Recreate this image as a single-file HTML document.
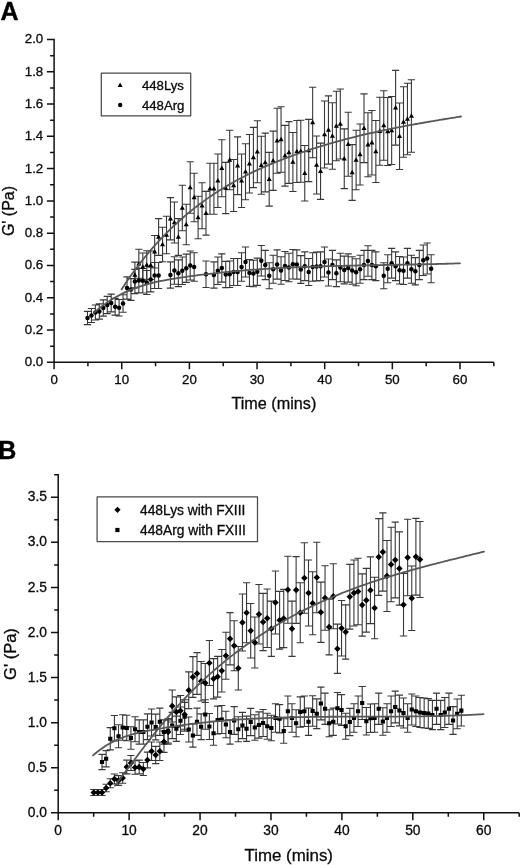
<!DOCTYPE html>
<html><head><meta charset="utf-8"><title>G' vs Time</title>
<style>html,body{margin:0;padding:0;background:#fff}svg{display:block;filter:grayscale(1)}</style></head>
<body>
<svg width="520" height="865" viewBox="0 0 520 865" font-family="'Liberation Sans', Arial, Helvetica, sans-serif" stroke-linejoin="round">
<rect width="520" height="865" fill="#fff"/>
<text x="0.5" y="19.5" font-size="25" font-weight="bold" fill="#000" stroke="#000" stroke-width="0.35">A</text>
<path d="M134.90,262.17V287.83M131.30,262.17h7.2M131.30,287.83h7.2M138.85,249.26V278.24M135.25,249.26h7.2M135.25,278.24h7.2M142.80,252.99V281.01M139.20,252.99h7.2M139.20,281.01h7.2M146.75,250.70V279.30M143.15,250.70h7.2M143.15,279.30h7.2M150.70,250.98V279.52M147.10,250.98h7.2M147.10,279.52h7.2M154.65,235.50V268.00M151.05,235.50h7.2M151.05,268.00h7.2M158.60,218.58V255.42M155.00,218.58h7.2M155.00,255.42h7.2M162.55,227.18V261.82M158.95,227.18h7.2M158.95,261.82h7.2M166.50,216.29V253.71M162.90,216.29h7.2M162.90,253.71h7.2M170.45,197.65V239.85M166.85,197.65h7.2M166.85,239.85h7.2M174.40,201.95V243.05M170.80,201.95h7.2M170.80,243.05h7.2M178.35,218.58V255.42M174.75,218.58h7.2M174.75,255.42h7.2M182.30,185.32V230.68M178.70,185.32h7.2M178.70,230.68h7.2M186.25,204.24V244.76M182.65,204.24h7.2M182.65,244.76h7.2M190.20,161.80V213.20M186.60,161.80h7.2M186.60,213.20h7.2M194.15,173.27V221.73M190.55,173.27h7.2M190.55,221.73h7.2M198.10,196.21V238.79M194.50,196.21h7.2M194.50,238.79h7.2M202.05,182.74V228.76M198.45,182.74h7.2M198.45,228.76h7.2M206.00,191.34V235.16M202.40,191.34h7.2M202.40,235.16h7.2M209.95,163.24V214.26M206.35,163.24h7.2M206.35,214.26h7.2M213.90,163.24V214.26M210.30,163.24h7.2M210.30,214.26h7.2M217.85,154.06V207.44M214.25,154.06h7.2M214.25,207.44h7.2M221.80,139.72V196.78M218.20,139.72h7.2M218.20,196.78h7.2M225.75,162.38V213.62M222.15,162.38h7.2M222.15,213.62h7.2M229.70,130.26V189.74M226.10,130.26h7.2M226.10,189.74h7.2M233.65,159.51V211.49M230.05,159.51h7.2M230.05,211.49h7.2M237.60,136.86V194.64M234.00,136.86h7.2M234.00,194.64h7.2M241.55,154.06V207.44M237.95,154.06h7.2M237.95,207.44h7.2M245.50,143.74V199.76M241.90,143.74h7.2M241.90,199.76h7.2M249.45,134.56V192.94M245.85,134.56h7.2M245.85,192.94h7.2M253.40,127.39V187.61M249.80,127.39h7.2M249.80,187.61h7.2M257.35,120.80V182.70M253.75,120.80h7.2M253.75,182.70h7.2M261.30,136.28V194.22M257.70,136.28h7.2M257.70,194.22h7.2M265.25,133.13V191.87M261.65,133.13h7.2M261.65,191.87h7.2M269.20,152.34V206.16M265.60,152.34h7.2M265.60,206.16h7.2M273.15,131.12V190.38M269.55,131.12h7.2M269.55,190.38h7.2M277.10,108.18V173.32M273.50,108.18h7.2M273.50,173.32h7.2M281.05,106.75V172.25M277.45,106.75h7.2M277.45,172.25h7.2M285.00,125.39V186.11M281.40,125.39h7.2M281.40,186.11h7.2M288.95,121.66V183.34M285.35,121.66h7.2M285.35,183.34h7.2M292.90,132.56V191.44M289.30,132.56h7.2M289.30,191.44h7.2M296.85,120.51V182.49M293.25,120.51h7.2M293.25,182.49h7.2M300.80,120.23V182.27M297.20,120.23h7.2M297.20,182.27h7.2M304.75,145.46V201.04M301.15,145.46h7.2M301.15,201.04h7.2M308.70,119.37V181.63M305.10,119.37h7.2M305.10,181.63h7.2M312.65,87.25V157.75M309.05,87.25h7.2M309.05,157.75h7.2M316.60,136.00V194.00M313.00,136.00h7.2M313.00,194.00h7.2M320.55,143.17V199.33M316.95,143.17h7.2M316.95,199.33h7.2M324.50,101.01V167.99M320.90,101.01h7.2M320.90,167.99h7.2M328.45,95.85V164.15M324.85,95.85h7.2M324.85,164.15h7.2M332.40,102.73V169.27M328.80,102.73h7.2M328.80,169.27h7.2M336.35,91.26V160.74M332.75,91.26h7.2M332.75,160.74h7.2M340.30,88.97V159.03M336.70,88.97h7.2M336.70,159.03h7.2M344.25,128.83V188.67M340.65,128.83h7.2M340.65,188.67h7.2M348.20,112.20V176.30M344.60,112.20h7.2M344.60,176.30h7.2M352.15,144.60V200.40M348.55,144.60h7.2M348.55,200.40h7.2M356.10,130.26V189.74M352.50,130.26h7.2M352.50,189.74h7.2M360.05,123.95V185.05M356.45,123.95h7.2M356.45,185.05h7.2M364.00,93.84V162.66M360.40,93.84h7.2M360.40,162.66h7.2M367.95,112.77V176.73M364.35,112.77h7.2M364.35,176.73h7.2M371.90,110.48V175.02M368.30,110.48h7.2M368.30,175.02h7.2M375.85,120.51V182.49M372.25,120.51h7.2M372.25,182.49h7.2M379.80,97.29V165.21M376.20,97.29h7.2M376.20,165.21h7.2M383.75,90.69V160.31M380.15,90.69h7.2M380.15,160.31h7.2M387.70,97.57V165.43M384.10,97.57h7.2M384.10,165.43h7.2M391.65,96.43V164.57M388.05,96.43h7.2M388.05,164.57h7.2M395.60,70.33V145.17M392.00,70.33h7.2M392.00,145.17h7.2M399.55,103.02V169.48M395.95,103.02h7.2M395.95,169.48h7.2M403.50,86.68V157.32M399.90,86.68h7.2M399.90,157.32h7.2M407.45,83.23V154.77M403.85,83.23h7.2M403.85,154.77h7.2M411.40,79.79V152.21M407.80,79.79h7.2M407.80,152.21h7.2" fill="none" stroke="#383838" stroke-width="1.1"/>
<path d="M87.50,311.36V324.64M83.90,311.36h7.2M83.90,324.64h7.2M91.45,308.48V322.52M87.85,308.48h7.2M87.85,322.52h7.2M95.40,305.03V319.97M91.80,305.03h7.2M91.80,319.97h7.2M99.35,303.88V319.12M95.75,303.88h7.2M95.75,319.12h7.2M103.30,299.86V316.14M99.70,299.86h7.2M99.70,316.14h7.2M107.25,296.40V313.60M103.65,296.40h7.2M103.65,313.60h7.2M111.20,294.11V311.89M107.60,294.11h7.2M107.60,311.89h7.2M115.15,298.42V315.08M111.55,298.42h7.2M111.55,315.08h7.2M119.10,299.57V315.93M115.50,299.57h7.2M115.50,315.93h7.2M123.05,294.68V312.32M119.45,294.68h7.2M119.45,312.32h7.2M127.00,276.86V299.14M123.40,276.86h7.2M123.40,299.14h7.2M130.95,278.58V300.42M127.35,278.58h7.2M127.35,300.42h7.2M134.90,269.38V293.62M131.30,269.38h7.2M131.30,293.62h7.2M138.85,268.23V292.77M135.25,268.23h7.2M135.25,292.77h7.2M142.80,268.52V292.98M139.20,268.52h7.2M139.20,292.98h7.2M146.75,270.53V294.47M143.15,270.53h7.2M143.15,294.47h7.2M150.70,267.08V291.92M147.10,267.08h7.2M147.10,291.92h7.2M154.65,262.48V288.52M151.05,262.48h7.2M151.05,288.52h7.2M158.60,262.48V288.52M155.00,262.48h7.2M155.00,288.52h7.2M170.45,261.90V288.10M166.85,261.90h7.2M166.85,288.10h7.2M174.40,256.73V284.27M170.80,256.73h7.2M170.80,284.27h7.2M178.35,259.89V286.61M174.75,259.89h7.2M174.75,286.61h7.2M182.30,257.02V284.48M178.70,257.02h7.2M178.70,284.48h7.2M186.25,254.14V282.36M182.65,254.14h7.2M182.65,282.36h7.2M190.20,250.98V280.02M186.60,250.98h7.2M186.60,280.02h7.2M194.15,252.70V281.30M190.55,252.70h7.2M190.55,281.30h7.2M206.00,261.04V287.46M202.40,261.04h7.2M202.40,287.46h7.2M213.90,261.90V288.10M210.30,261.90h7.2M210.30,288.10h7.2M217.85,257.02V284.48M214.25,257.02h7.2M214.25,284.48h7.2M221.80,253.85V282.14M218.20,253.85h7.2M218.20,282.14h7.2M225.75,261.33V287.67M222.15,261.33h7.2M222.15,287.67h7.2M229.70,261.04V287.46M226.10,261.04h7.2M226.10,287.46h7.2M233.65,258.45V285.55M230.05,258.45h7.2M230.05,285.55h7.2M237.60,258.45V285.55M234.00,258.45h7.2M234.00,285.55h7.2M241.55,252.70V281.30M237.95,252.70h7.2M237.95,281.30h7.2M245.50,246.95V277.05M241.90,246.95h7.2M241.90,277.05h7.2M249.45,259.61V286.39M245.85,259.61h7.2M245.85,286.39h7.2M253.40,260.18V286.82M249.80,260.18h7.2M249.80,286.82h7.2M257.35,258.17V285.33M253.75,258.17h7.2M253.75,285.33h7.2M261.30,245.52V275.98M257.70,245.52h7.2M257.70,275.98h7.2M265.25,250.41V279.60M261.65,250.41h7.2M261.65,279.60h7.2M269.20,262.77V288.73M265.60,262.77h7.2M265.60,288.73h7.2M273.15,255.29V283.21M269.55,255.29h7.2M269.55,283.21h7.2M277.10,249.83V279.17M273.50,249.83h7.2M273.50,279.17h7.2M281.05,256.73V284.27M277.45,256.73h7.2M277.45,284.27h7.2M285.00,251.56V280.44M281.40,251.56h7.2M281.40,280.44h7.2M288.95,253.28V281.72M285.35,253.28h7.2M285.35,281.72h7.2M292.90,249.54V278.96M289.30,249.54h7.2M289.30,278.96h7.2M296.85,249.83V279.17M293.25,249.83h7.2M293.25,279.17h7.2M300.80,255.58V283.42M297.20,255.58h7.2M297.20,283.42h7.2M304.75,251.84V280.66M301.15,251.84h7.2M301.15,280.66h7.2M308.70,258.45V285.55M305.10,258.45h7.2M305.10,285.55h7.2M312.65,252.70V281.30M309.05,252.70h7.2M309.05,281.30h7.2M316.60,252.13V280.87M313.00,252.13h7.2M313.00,280.87h7.2M320.55,251.84V280.66M316.95,251.84h7.2M316.95,280.66h7.2M324.50,246.95V277.05M320.90,246.95h7.2M320.90,277.05h7.2M328.45,259.03V285.97M324.85,259.03h7.2M324.85,285.97h7.2M332.40,250.41V279.60M328.80,250.41h7.2M328.80,279.60h7.2M336.35,259.89V286.61M332.75,259.89h7.2M332.75,286.61h7.2M340.30,253.28V281.72M336.70,253.28h7.2M336.70,281.72h7.2M344.25,256.15V283.85M340.65,256.15h7.2M340.65,283.85h7.2M348.20,253.85V282.14M344.60,253.85h7.2M344.60,282.14h7.2M352.15,256.73V284.27M348.55,256.73h7.2M348.55,284.27h7.2M356.10,258.74V285.76M352.50,258.74h7.2M352.50,285.76h7.2M360.05,255.29V283.21M356.45,255.29h7.2M356.45,283.21h7.2M364.00,250.41V279.60M360.40,250.41h7.2M360.40,279.60h7.2M367.95,245.81V276.19M364.35,245.81h7.2M364.35,276.19h7.2M371.90,250.41V279.60M368.30,250.41h7.2M368.30,279.60h7.2M375.85,251.84V280.66M372.25,251.84h7.2M372.25,280.66h7.2M383.75,262.77V288.73M380.15,262.77h7.2M380.15,288.73h7.2M387.70,254.72V282.78M384.10,254.72h7.2M384.10,282.78h7.2M391.65,248.39V278.11M388.05,248.39h7.2M388.05,278.11h7.2M395.60,251.84V280.66M392.00,251.84h7.2M392.00,280.66h7.2M399.55,256.44V284.06M395.95,256.44h7.2M395.95,284.06h7.2M403.50,257.02V284.48M399.90,257.02h7.2M399.90,284.48h7.2M407.45,248.39V278.11M403.85,248.39h7.2M403.85,278.11h7.2M411.40,255.29V283.21M407.80,255.29h7.2M407.80,283.21h7.2M415.35,257.59V284.91M411.75,257.59h7.2M411.75,284.91h7.2M419.30,250.41V279.60M415.70,250.41h7.2M415.70,279.60h7.2M423.25,244.94V275.56M419.65,244.94h7.2M419.65,275.56h7.2M427.20,242.93V274.07M423.60,242.93h7.2M423.60,274.07h7.2M431.15,254.72V282.78M427.55,254.72h7.2M427.55,282.78h7.2" fill="none" stroke="#383838" stroke-width="1.1"/>
<path d="M134.90,272.30l2.55,4.5h-5.1zM138.85,261.05l2.55,4.5h-5.1zM142.80,264.30l2.55,4.5h-5.1zM146.75,262.30l2.55,4.5h-5.1zM150.70,262.55l2.55,4.5h-5.1zM154.65,249.05l2.55,4.5h-5.1zM158.60,234.30l2.55,4.5h-5.1zM162.55,241.80l2.55,4.5h-5.1zM166.50,232.30l2.55,4.5h-5.1zM170.45,216.05l2.55,4.5h-5.1zM174.40,219.80l2.55,4.5h-5.1zM178.35,234.30l2.55,4.5h-5.1zM182.30,205.30l2.55,4.5h-5.1zM186.25,221.80l2.55,4.5h-5.1zM190.20,184.80l2.55,4.5h-5.1zM194.15,194.80l2.55,4.5h-5.1zM198.10,214.80l2.55,4.5h-5.1zM202.05,203.05l2.55,4.5h-5.1zM206.00,210.55l2.55,4.5h-5.1zM209.95,186.05l2.55,4.5h-5.1zM213.90,186.05l2.55,4.5h-5.1zM217.85,178.05l2.55,4.5h-5.1zM221.80,165.55l2.55,4.5h-5.1zM225.75,185.30l2.55,4.5h-5.1zM229.70,157.30l2.55,4.5h-5.1zM233.65,182.80l2.55,4.5h-5.1zM237.60,163.05l2.55,4.5h-5.1zM241.55,178.05l2.55,4.5h-5.1zM245.50,169.05l2.55,4.5h-5.1zM249.45,161.05l2.55,4.5h-5.1zM253.40,154.80l2.55,4.5h-5.1zM257.35,149.05l2.55,4.5h-5.1zM261.30,162.55l2.55,4.5h-5.1zM265.25,159.80l2.55,4.5h-5.1zM269.20,176.55l2.55,4.5h-5.1zM273.15,158.05l2.55,4.5h-5.1zM277.10,138.05l2.55,4.5h-5.1zM281.05,136.80l2.55,4.5h-5.1zM285.00,153.05l2.55,4.5h-5.1zM288.95,149.80l2.55,4.5h-5.1zM292.90,159.30l2.55,4.5h-5.1zM296.85,148.80l2.55,4.5h-5.1zM300.80,148.55l2.55,4.5h-5.1zM304.75,170.55l2.55,4.5h-5.1zM308.70,147.80l2.55,4.5h-5.1zM312.65,119.80l2.55,4.5h-5.1zM316.60,162.30l2.55,4.5h-5.1zM320.55,168.55l2.55,4.5h-5.1zM324.50,131.80l2.55,4.5h-5.1zM328.45,127.30l2.55,4.5h-5.1zM332.40,133.30l2.55,4.5h-5.1zM336.35,123.30l2.55,4.5h-5.1zM340.30,121.30l2.55,4.5h-5.1zM344.25,156.05l2.55,4.5h-5.1zM348.20,141.55l2.55,4.5h-5.1zM352.15,169.80l2.55,4.5h-5.1zM356.10,157.30l2.55,4.5h-5.1zM360.05,151.80l2.55,4.5h-5.1zM364.00,125.55l2.55,4.5h-5.1zM367.95,142.05l2.55,4.5h-5.1zM371.90,140.05l2.55,4.5h-5.1zM375.85,148.80l2.55,4.5h-5.1zM379.80,128.55l2.55,4.5h-5.1zM383.75,122.80l2.55,4.5h-5.1zM387.70,128.80l2.55,4.5h-5.1zM391.65,127.80l2.55,4.5h-5.1zM395.60,105.05l2.55,4.5h-5.1zM399.55,133.55l2.55,4.5h-5.1zM403.50,119.30l2.55,4.5h-5.1zM407.45,116.30l2.55,4.5h-5.1zM411.40,113.30l2.55,4.5h-5.1z" fill="#000"/>
<circle cx="87.50" cy="318.00" r="2.25" fill="#000"/>
<circle cx="91.45" cy="315.50" r="2.25" fill="#000"/>
<circle cx="95.40" cy="312.50" r="2.25" fill="#000"/>
<circle cx="99.35" cy="311.50" r="2.25" fill="#000"/>
<circle cx="103.30" cy="308.00" r="2.25" fill="#000"/>
<circle cx="107.25" cy="305.00" r="2.25" fill="#000"/>
<circle cx="111.20" cy="303.00" r="2.25" fill="#000"/>
<circle cx="115.15" cy="306.75" r="2.25" fill="#000"/>
<circle cx="119.10" cy="307.75" r="2.25" fill="#000"/>
<circle cx="123.05" cy="303.50" r="2.25" fill="#000"/>
<circle cx="127.00" cy="288.00" r="2.25" fill="#000"/>
<circle cx="130.95" cy="289.50" r="2.25" fill="#000"/>
<circle cx="134.90" cy="281.50" r="2.25" fill="#000"/>
<circle cx="138.85" cy="280.50" r="2.25" fill="#000"/>
<circle cx="142.80" cy="280.75" r="2.25" fill="#000"/>
<circle cx="146.75" cy="282.50" r="2.25" fill="#000"/>
<circle cx="150.70" cy="279.50" r="2.25" fill="#000"/>
<circle cx="154.65" cy="275.50" r="2.25" fill="#000"/>
<circle cx="158.60" cy="275.50" r="2.25" fill="#000"/>
<circle cx="170.45" cy="275.00" r="2.25" fill="#000"/>
<circle cx="174.40" cy="270.50" r="2.25" fill="#000"/>
<circle cx="178.35" cy="273.25" r="2.25" fill="#000"/>
<circle cx="182.30" cy="270.75" r="2.25" fill="#000"/>
<circle cx="186.25" cy="268.25" r="2.25" fill="#000"/>
<circle cx="190.20" cy="265.50" r="2.25" fill="#000"/>
<circle cx="194.15" cy="267.00" r="2.25" fill="#000"/>
<circle cx="206.00" cy="274.25" r="2.25" fill="#000"/>
<circle cx="213.90" cy="275.00" r="2.25" fill="#000"/>
<circle cx="217.85" cy="270.75" r="2.25" fill="#000"/>
<circle cx="221.80" cy="268.00" r="2.25" fill="#000"/>
<circle cx="225.75" cy="274.50" r="2.25" fill="#000"/>
<circle cx="229.70" cy="274.25" r="2.25" fill="#000"/>
<circle cx="233.65" cy="272.00" r="2.25" fill="#000"/>
<circle cx="237.60" cy="272.00" r="2.25" fill="#000"/>
<circle cx="241.55" cy="267.00" r="2.25" fill="#000"/>
<circle cx="245.50" cy="262.00" r="2.25" fill="#000"/>
<circle cx="249.45" cy="273.00" r="2.25" fill="#000"/>
<circle cx="253.40" cy="273.50" r="2.25" fill="#000"/>
<circle cx="257.35" cy="271.75" r="2.25" fill="#000"/>
<circle cx="261.30" cy="260.75" r="2.25" fill="#000"/>
<circle cx="265.25" cy="265.00" r="2.25" fill="#000"/>
<circle cx="269.20" cy="275.75" r="2.25" fill="#000"/>
<circle cx="273.15" cy="269.25" r="2.25" fill="#000"/>
<circle cx="277.10" cy="264.50" r="2.25" fill="#000"/>
<circle cx="281.05" cy="270.50" r="2.25" fill="#000"/>
<circle cx="285.00" cy="266.00" r="2.25" fill="#000"/>
<circle cx="288.95" cy="267.50" r="2.25" fill="#000"/>
<circle cx="292.90" cy="264.25" r="2.25" fill="#000"/>
<circle cx="296.85" cy="264.50" r="2.25" fill="#000"/>
<circle cx="300.80" cy="269.50" r="2.25" fill="#000"/>
<circle cx="304.75" cy="266.25" r="2.25" fill="#000"/>
<circle cx="308.70" cy="272.00" r="2.25" fill="#000"/>
<circle cx="312.65" cy="267.00" r="2.25" fill="#000"/>
<circle cx="316.60" cy="266.50" r="2.25" fill="#000"/>
<circle cx="320.55" cy="266.25" r="2.25" fill="#000"/>
<circle cx="324.50" cy="262.00" r="2.25" fill="#000"/>
<circle cx="328.45" cy="272.50" r="2.25" fill="#000"/>
<circle cx="332.40" cy="265.00" r="2.25" fill="#000"/>
<circle cx="336.35" cy="273.25" r="2.25" fill="#000"/>
<circle cx="340.30" cy="267.50" r="2.25" fill="#000"/>
<circle cx="344.25" cy="270.00" r="2.25" fill="#000"/>
<circle cx="348.20" cy="268.00" r="2.25" fill="#000"/>
<circle cx="352.15" cy="270.50" r="2.25" fill="#000"/>
<circle cx="356.10" cy="272.25" r="2.25" fill="#000"/>
<circle cx="360.05" cy="269.25" r="2.25" fill="#000"/>
<circle cx="364.00" cy="265.00" r="2.25" fill="#000"/>
<circle cx="367.95" cy="261.00" r="2.25" fill="#000"/>
<circle cx="371.90" cy="265.00" r="2.25" fill="#000"/>
<circle cx="375.85" cy="266.25" r="2.25" fill="#000"/>
<circle cx="383.75" cy="275.75" r="2.25" fill="#000"/>
<circle cx="387.70" cy="268.75" r="2.25" fill="#000"/>
<circle cx="391.65" cy="263.25" r="2.25" fill="#000"/>
<circle cx="395.60" cy="266.25" r="2.25" fill="#000"/>
<circle cx="399.55" cy="270.25" r="2.25" fill="#000"/>
<circle cx="403.50" cy="270.75" r="2.25" fill="#000"/>
<circle cx="407.45" cy="263.25" r="2.25" fill="#000"/>
<circle cx="411.40" cy="269.25" r="2.25" fill="#000"/>
<circle cx="415.35" cy="271.25" r="2.25" fill="#000"/>
<circle cx="419.30" cy="265.00" r="2.25" fill="#000"/>
<circle cx="423.25" cy="260.25" r="2.25" fill="#000"/>
<circle cx="427.20" cy="258.50" r="2.25" fill="#000"/>
<circle cx="431.15" cy="268.75" r="2.25" fill="#000"/>
<path d="M121.50,289.39 L123.64,286.15 L125.77,282.97 L127.91,279.85 L130.04,276.80 L132.18,273.81 L134.31,270.87 L136.45,267.99 L138.58,265.17 L140.72,262.40 L142.85,259.69 L144.99,257.03 L147.12,254.42 L149.26,251.87 L151.39,249.36 L153.53,246.91 L155.66,244.50 L157.80,242.15 L159.93,239.83 L162.07,237.57 L164.20,235.35 L166.34,233.17 L168.47,231.04 L170.61,228.94 L172.75,226.89 L174.88,224.88 L177.02,222.91 L179.15,220.97 L181.29,219.08 L183.42,217.21 L185.56,215.39 L187.69,213.59 L189.83,211.83 L191.96,210.11 L194.10,208.41 L196.23,206.74 L198.37,205.11 L200.50,203.50 L202.64,201.93 L204.77,200.38 L206.91,198.86 L209.04,197.37 L211.18,195.91 L213.31,194.47 L215.45,193.06 L217.58,191.68 L219.72,190.32 L221.86,188.99 L223.99,187.68 L226.13,186.40 L228.26,185.14 L230.40,183.90 L232.53,182.68 L234.67,181.49 L236.80,180.32 L238.94,179.17 L241.07,178.04 L243.21,176.93 L245.34,175.84 L247.48,174.76 L249.61,173.71 L251.75,172.68 L253.88,171.66 L256.02,170.66 L258.15,169.67 L260.29,168.70 L262.42,167.75 L264.56,166.81 L266.69,165.89 L268.83,164.98 L270.97,164.09 L273.10,163.20 L275.24,162.33 L277.37,161.47 L279.51,160.63 L281.64,159.79 L283.78,158.97 L285.91,158.15 L288.05,157.35 L290.18,156.56 L292.32,155.77 L294.45,155.00 L296.59,154.24 L298.72,153.49 L300.86,152.74 L302.99,152.01 L305.13,151.29 L307.26,150.57 L309.40,149.87 L311.53,149.18 L313.67,148.49 L315.81,147.81 L317.94,147.15 L320.08,146.49 L322.21,145.84 L324.35,145.19 L326.48,144.56 L328.62,143.94 L330.75,143.32 L332.89,142.71 L335.02,142.11 L337.16,141.52 L339.29,140.93 L341.43,140.35 L343.56,139.78 L345.70,139.22 L347.83,138.67 L349.97,138.12 L352.10,137.58 L354.24,137.04 L356.37,136.51 L358.51,135.99 L360.64,135.48 L362.78,134.97 L364.92,134.47 L367.05,133.97 L369.19,133.48 L371.32,133.00 L373.46,132.52 L375.59,132.05 L377.73,131.58 L379.86,131.12 L382.00,130.67 L384.13,130.22 L386.27,129.77 L388.40,129.33 L390.54,128.90 L392.67,128.47 L394.81,128.04 L396.94,127.62 L399.08,127.20 L401.21,126.79 L403.35,126.38 L405.48,125.98 L407.62,125.58 L409.75,125.18 L411.89,124.79 L414.03,124.40 L416.16,124.01 L418.30,123.63 L420.43,123.25 L422.57,122.87 L424.70,122.50 L426.84,122.13 L428.97,121.76 L431.11,121.40 L433.24,121.03 L435.38,120.67 L437.51,120.31 L439.65,119.96 L441.78,119.61 L443.92,119.25 L446.05,118.90 L448.19,118.55 L450.32,118.21 L452.46,117.86 L454.59,117.52 L456.73,117.18 L458.86,116.83 L461.00,116.49" fill="none" stroke="#575757" stroke-width="1.8" stroke-linecap="round"/>
<path d="M94.40,312.39 L96.70,310.43 L99.00,308.54 L101.30,306.74 L103.60,305.02 L105.90,303.37 L108.20,301.79 L110.50,300.29 L112.79,298.85 L115.09,297.49 L117.39,296.19 L119.69,294.95 L121.99,293.77 L124.29,292.65 L126.59,291.59 L128.89,290.58 L131.19,289.62 L133.49,288.72 L135.79,287.86 L138.09,287.05 L140.39,286.28 L142.69,285.55 L144.99,284.86 L147.29,284.21 L149.58,283.60 L151.88,283.01 L154.18,282.46 L156.48,281.94 L158.78,281.44 L161.08,280.97 L163.38,280.52 L165.68,280.09 L167.98,279.68 L170.28,279.29 L172.58,278.90 L174.88,278.53 L177.18,278.17 L179.48,277.82 L181.78,277.47 L184.08,277.13 L186.37,276.80 L188.67,276.47 L190.97,276.15 L193.27,275.84 L195.57,275.53 L197.87,275.23 L200.17,274.94 L202.47,274.65 L204.77,274.37 L207.07,274.09 L209.37,273.82 L211.67,273.56 L213.97,273.30 L216.27,273.05 L218.57,272.80 L220.87,272.56 L223.16,272.33 L225.46,272.10 L227.76,271.87 L230.06,271.65 L232.36,271.44 L234.66,271.23 L236.96,271.02 L239.26,270.82 L241.56,270.63 L243.86,270.44 L246.16,270.26 L248.46,270.08 L250.76,269.90 L253.06,269.73 L255.36,269.56 L257.66,269.40 L259.95,269.24 L262.25,269.09 L264.55,268.94 L266.85,268.80 L269.15,268.65 L271.45,268.52 L273.75,268.38 L276.05,268.25 L278.35,268.13 L280.65,268.01 L282.95,267.89 L285.25,267.77 L287.55,267.66 L289.85,267.55 L292.15,267.45 L294.45,267.34 L296.74,267.24 L299.04,267.15 L301.34,267.05 L303.64,266.96 L305.94,266.88 L308.24,266.79 L310.54,266.71 L312.84,266.63 L315.14,266.55 L317.44,266.48 L319.74,266.40 L322.04,266.33 L324.34,266.26 L326.64,266.20 L328.94,266.13 L331.24,266.07 L333.53,266.01 L335.83,265.95 L338.13,265.90 L340.43,265.84 L342.73,265.79 L345.03,265.74 L347.33,265.68 L349.63,265.64 L351.93,265.59 L354.23,265.54 L356.53,265.49 L358.83,265.45 L361.13,265.40 L363.43,265.36 L365.73,265.32 L368.03,265.28 L370.32,265.24 L372.62,265.20 L374.92,265.16 L377.22,265.12 L379.52,265.08 L381.82,265.04 L384.12,265.00 L386.42,264.96 L388.72,264.92 L391.02,264.88 L393.32,264.85 L395.62,264.81 L397.92,264.77 L400.22,264.73 L402.52,264.69 L404.82,264.65 L407.11,264.61 L409.41,264.56 L411.71,264.52 L414.01,264.48 L416.31,264.43 L418.61,264.39 L420.91,264.34 L423.21,264.30 L425.51,264.25 L427.81,264.20 L430.11,264.15 L432.41,264.09 L434.71,264.04 L437.01,263.98 L439.31,263.93 L441.61,263.87 L443.90,263.81 L446.20,263.74 L448.50,263.68 L450.80,263.61 L453.10,263.54 L455.40,263.47 L457.70,263.40 L460.00,263.32" fill="none" stroke="#575757" stroke-width="1.8" stroke-linecap="round"/>
<path d="M54.1,38.75V363.05M53.35,362.3H493.82M54.1,362.30h-7.2M54.1,330.02h-7.2M54.1,297.74h-7.2M54.1,265.46h-7.2M54.1,233.18h-7.2M54.1,200.90h-7.2M54.1,168.62h-7.2M54.1,136.34h-7.2M54.1,104.06h-7.2M54.1,71.78h-7.2M54.1,39.50h-7.2M54.1,346.16h-4M54.1,313.88h-4M54.1,281.60h-4M54.1,249.32h-4M54.1,217.04h-4M54.1,184.76h-4M54.1,152.48h-4M54.1,120.20h-4M54.1,87.92h-4M54.1,55.64h-4M54.10,362.3v7.0M121.75,362.3v7.0M189.40,362.3v7.0M257.05,362.3v7.0M324.70,362.3v7.0M392.35,362.3v7.0M460.00,362.3v7.0M87.92,362.3v4M155.57,362.3v4M223.22,362.3v4M290.88,362.3v4M358.53,362.3v4M426.18,362.3v4M493.82,362.3v4" fill="none" stroke="#111" stroke-width="1.5"/>
<text x="43.25" y="366.21" font-size="13.3" text-anchor="end" fill="#0a0a0a" stroke="#0a0a0a" stroke-width="0.3">0.0</text>
<text x="43.25" y="333.93" font-size="13.3" text-anchor="end" fill="#0a0a0a" stroke="#0a0a0a" stroke-width="0.3">0.2</text>
<text x="43.25" y="301.65" font-size="13.3" text-anchor="end" fill="#0a0a0a" stroke="#0a0a0a" stroke-width="0.3">0.4</text>
<text x="43.25" y="269.37" font-size="13.3" text-anchor="end" fill="#0a0a0a" stroke="#0a0a0a" stroke-width="0.3">0.6</text>
<text x="43.25" y="237.09" font-size="13.3" text-anchor="end" fill="#0a0a0a" stroke="#0a0a0a" stroke-width="0.3">0.8</text>
<text x="43.25" y="204.81" font-size="13.3" text-anchor="end" fill="#0a0a0a" stroke="#0a0a0a" stroke-width="0.3">1.0</text>
<text x="43.25" y="172.53" font-size="13.3" text-anchor="end" fill="#0a0a0a" stroke="#0a0a0a" stroke-width="0.3">1.2</text>
<text x="43.25" y="140.25" font-size="13.3" text-anchor="end" fill="#0a0a0a" stroke="#0a0a0a" stroke-width="0.3">1.4</text>
<text x="43.25" y="107.97" font-size="13.3" text-anchor="end" fill="#0a0a0a" stroke="#0a0a0a" stroke-width="0.3">1.6</text>
<text x="43.25" y="75.69" font-size="13.3" text-anchor="end" fill="#0a0a0a" stroke="#0a0a0a" stroke-width="0.3">1.8</text>
<text x="43.25" y="43.41" font-size="13.3" text-anchor="end" fill="#0a0a0a" stroke="#0a0a0a" stroke-width="0.3">2.0</text>
<text x="54.10" y="384.00" font-size="13.3" text-anchor="middle" fill="#0a0a0a" stroke="#0a0a0a" stroke-width="0.3">0</text>
<text x="121.75" y="384.00" font-size="13.3" text-anchor="middle" fill="#0a0a0a" stroke="#0a0a0a" stroke-width="0.3">10</text>
<text x="189.40" y="384.00" font-size="13.3" text-anchor="middle" fill="#0a0a0a" stroke="#0a0a0a" stroke-width="0.3">20</text>
<text x="257.05" y="384.00" font-size="13.3" text-anchor="middle" fill="#0a0a0a" stroke="#0a0a0a" stroke-width="0.3">30</text>
<text x="324.70" y="384.00" font-size="13.3" text-anchor="middle" fill="#0a0a0a" stroke="#0a0a0a" stroke-width="0.3">40</text>
<text x="392.35" y="384.00" font-size="13.3" text-anchor="middle" fill="#0a0a0a" stroke="#0a0a0a" stroke-width="0.3">50</text>
<text x="460.00" y="384.00" font-size="13.3" text-anchor="middle" fill="#0a0a0a" stroke="#0a0a0a" stroke-width="0.3">60</text>
<text x="273.9" y="408.75" font-size="16.2" text-anchor="middle" fill="#0a0a0a" stroke="#0a0a0a" stroke-width="0.3">Time (mins)</text>
<text transform="translate(13.8,211) rotate(-90)" font-size="16" text-anchor="middle" fill="#0a0a0a" stroke="#0a0a0a" stroke-width="0.3">G' (Pa)</text>
<rect x="101.3" y="73.2" width="89.4" height="42.7" fill="#fff" stroke="#4a4a4a" stroke-width="1.25"/>
<path d="M120.1,82.4l2.5,4.5h-5z" fill="#000"/><circle cx="120.2" cy="105" r="2.2" fill="#000"/>
<text x="141.9" y="90.2" font-size="13.2" fill="#0a0a0a" stroke="#0a0a0a" stroke-width="0.3">448Lys</text>
<text x="141.9" y="110" font-size="13.2" fill="#0a0a0a" stroke="#0a0a0a" stroke-width="0.3">448Arg</text>
<text x="-1.8" y="458.8" font-size="25" font-weight="bold" fill="#000" stroke="#000" stroke-width="0.35">B</text>
<path d="M93.75,789.46V795.54M90.15,789.46h7.2M90.15,795.54h7.2M97.88,789.46V795.54M94.28,789.46h7.2M94.28,795.54h7.2M102.01,789.46V795.54M98.41,789.46h7.2M98.41,795.54h7.2M106.14,784.28V791.72M102.54,784.28h7.2M102.54,791.72h7.2M110.27,778.82V787.68M106.67,778.82h7.2M106.67,787.68h7.2M114.40,773.93V784.07M110.80,773.93h7.2M110.80,784.07h7.2M118.53,775.65V785.35M114.93,775.65h7.2M114.93,785.35h7.2M122.66,772.78V783.22M119.06,772.78h7.2M119.06,783.22h7.2M126.79,760.13V773.87M123.19,760.13h7.2M123.19,773.87h7.2M130.92,755.53V770.47M127.32,755.53h7.2M127.32,770.47h7.2M135.05,760.71V774.29M131.45,760.71h7.2M131.45,774.29h7.2M139.18,760.13V773.87M135.58,760.13h7.2M135.58,773.87h7.2M143.31,762.43V775.57M139.71,762.43h7.2M139.71,775.57h7.2M147.44,752.08V767.92M143.84,752.08h7.2M143.84,767.92h7.2M151.57,742.02V760.48M147.97,742.02h7.2M147.97,760.48h7.2M155.70,746.33V763.67M152.10,746.33h7.2M152.10,763.67h7.2M159.83,742.02V760.48M156.23,742.02h7.2M156.23,760.48h7.2M163.96,731.09V752.41M160.36,731.09h7.2M160.36,752.41h7.2M168.09,719.88V744.12M164.49,719.88h7.2M164.49,744.12h7.2M172.22,689.98V722.02M168.62,689.98h7.2M168.62,722.02h7.2M176.35,696.88V727.12M172.75,696.88h7.2M172.75,727.12h7.2M180.48,695.44V726.06M176.88,695.44h7.2M176.88,726.06h7.2M184.61,699.75V729.25M181.01,699.75h7.2M181.01,729.25h7.2M188.74,671.87V708.63M185.14,671.87h7.2M185.14,708.63h7.2M192.87,656.63V697.37M189.27,656.63h7.2M189.27,697.37h7.2M197.00,652.61V694.39M193.40,652.61h7.2M193.40,694.39h7.2M201.13,661.52V700.98M197.53,661.52h7.2M197.53,700.98h7.2M205.26,663.53V702.47M201.66,663.53h7.2M201.66,702.47h7.2M209.39,640.53V685.47M205.79,640.53h7.2M205.79,685.47h7.2M213.52,658.64V698.86M209.92,658.64h7.2M209.92,698.86h7.2M217.65,656.34V697.16M214.05,656.34h7.2M214.05,697.16h7.2M221.78,649.44V692.06M218.18,649.44h7.2M218.18,692.06h7.2M225.91,632.19V679.31M222.31,632.19h7.2M222.31,679.31h7.2M230.04,612.64V664.86M226.44,612.64h7.2M226.44,664.86h7.2M234.17,620.69V670.81M230.57,620.69h7.2M230.57,670.81h7.2M238.30,646.57V689.93M234.70,646.57h7.2M234.70,689.93h7.2M242.43,593.96V651.04M238.83,593.96h7.2M238.83,651.04h7.2M246.56,582.74V642.76M242.96,582.74h7.2M242.96,642.76h7.2M250.69,603.44V658.06M247.09,603.44h7.2M247.09,658.06h7.2M254.82,616.96V668.04M251.22,616.96h7.2M251.22,668.04h7.2M258.95,584.47V644.03M255.35,584.47h7.2M255.35,644.03h7.2M263.08,593.38V650.62M259.48,593.38h7.2M259.48,650.62h7.2M267.21,589.07V647.43M263.61,589.07h7.2M263.61,647.43h7.2M271.34,601.14V656.36M267.74,601.14h7.2M267.74,656.36h7.2M275.47,570.96V634.04M271.87,570.96h7.2M271.87,634.04h7.2M279.60,591.37V649.13M276.00,591.37h7.2M276.00,649.13h7.2M283.73,589.36V647.64M280.13,589.36h7.2M280.13,647.64h7.2M287.86,556.29V623.21M284.26,556.29h7.2M284.26,623.21h7.2M291.99,601.14V656.36M288.39,601.14h7.2M288.39,656.36h7.2M296.12,556.58V623.42M292.52,556.58h7.2M292.52,623.42h7.2M300.25,582.74V642.76M296.65,582.74h7.2M296.65,642.76h7.2M304.38,542.78V613.22M300.78,542.78h7.2M300.78,613.22h7.2M308.51,560.03V625.97M304.91,560.03h7.2M304.91,625.97h7.2M312.64,571.82V634.68M309.04,571.82h7.2M309.04,634.68h7.2M316.77,542.21V612.79M313.17,542.21h7.2M313.17,612.79h7.2M320.90,582.17V642.33M317.30,582.17h7.2M317.30,642.33h7.2M325.03,565.78V630.22M321.43,565.78h7.2M321.43,630.22h7.2M329.16,599.13V654.87M325.56,599.13h7.2M325.56,654.87h7.2M333.29,563.77V628.73M329.69,563.77h7.2M329.69,628.73h7.2M337.42,624.14V673.36M333.82,624.14h7.2M333.82,673.36h7.2M341.55,600.57V655.93M337.95,600.57h7.2M337.95,655.93h7.2M345.68,604.88V659.12M342.08,604.88h7.2M342.08,659.12h7.2M349.81,564.34V629.16M346.21,564.34h7.2M346.21,629.16h7.2M353.94,560.03V625.97M350.34,560.03h7.2M350.34,625.97h7.2M358.07,558.31V624.69M354.47,558.31h7.2M354.47,624.69h7.2M362.20,573.83V636.17M358.60,573.83h7.2M358.60,636.17h7.2M366.33,568.37V632.13M362.73,568.37h7.2M362.73,632.13h7.2M370.46,556.87V623.63M366.86,556.87h7.2M366.86,623.63h7.2M374.59,577.28V638.72M370.99,577.28h7.2M370.99,638.72h7.2M378.72,518.63V595.37M375.12,518.63h7.2M375.12,595.37h7.2M382.85,512.88V591.12M379.25,512.88h7.2M379.25,591.12h7.2M386.98,540.48V611.52M383.38,540.48h7.2M383.38,611.52h7.2M391.11,527.25V601.75M387.51,527.25h7.2M387.51,601.75h7.2M395.24,522.08V597.92M391.64,522.08h7.2M391.64,597.92h7.2M399.37,531.86V605.14M395.77,531.86h7.2M395.77,605.14h7.2M403.50,573.54V635.96M399.90,573.54h7.2M399.90,635.96h7.2M407.63,519.21V595.79M404.03,519.21h7.2M404.03,595.79h7.2M411.76,566.07V630.43M408.16,566.07h7.2M408.16,630.43h7.2M415.89,518.34V595.16M412.29,518.34h7.2M412.29,595.16h7.2M420.02,521.50V597.50M416.42,521.50h7.2M416.42,597.50h7.2" fill="none" stroke="#383838" stroke-width="1.1"/>
<path d="M102.01,754.38V769.62M98.41,754.38h7.2M98.41,769.62h7.2M106.14,750.64V766.86M102.54,750.64h7.2M102.54,766.86h7.2M110.27,727.64V749.86M106.67,727.64h7.2M106.67,749.86h7.2M114.40,715.57V740.93M110.80,715.57h7.2M110.80,740.93h7.2M118.53,724.77V747.73M114.93,724.77h7.2M114.93,747.73h7.2M122.66,714.71V740.29M119.06,714.71h7.2M119.06,740.29h7.2M126.79,715.28V740.72M123.19,715.28h7.2M123.19,740.72h7.2M130.92,726.78V749.22M127.32,726.78h7.2M127.32,749.22h7.2M135.05,716.72V741.78M131.45,716.72h7.2M131.45,741.78h7.2M139.18,719.88V744.12M135.58,719.88h7.2M135.58,744.12h7.2M143.31,719.88V744.12M139.71,719.88h7.2M139.71,744.12h7.2M147.44,713.84V739.66M143.84,713.84h7.2M143.84,739.66h7.2M151.57,708.96V736.04M147.97,708.96h7.2M147.97,736.04h7.2M155.70,714.13V739.87M152.10,714.13h7.2M152.10,739.87h7.2M159.83,708.09V735.41M156.23,708.09h7.2M156.23,735.41h7.2M163.96,719.88V744.12M160.36,719.88h7.2M160.36,744.12h7.2M168.09,718.44V743.06M164.49,718.44h7.2M164.49,743.06h7.2M172.22,712.40V738.60M168.62,712.40h7.2M168.62,738.60h7.2M176.35,716.14V741.36M172.75,716.14h7.2M172.75,741.36h7.2M180.48,706.94V734.56M176.88,706.94h7.2M176.88,734.56h7.2M184.61,702.34V731.16M181.01,702.34h7.2M181.01,731.16h7.2M188.74,717.00V742.00M185.14,717.00h7.2M185.14,742.00h7.2M192.87,723.90V747.10M189.27,723.90h7.2M189.27,747.10h7.2M197.00,708.09V735.41M193.40,708.09h7.2M193.40,735.41h7.2M201.13,713.84V739.66M197.53,713.84h7.2M197.53,739.66h7.2M205.26,699.75V729.25M201.66,699.75h7.2M201.66,729.25h7.2M209.39,713.56V739.44M205.79,713.56h7.2M205.79,739.44h7.2M213.52,721.32V745.18M209.92,721.32h7.2M209.92,745.18h7.2M217.65,706.08V733.92M214.05,706.08h7.2M214.05,733.92h7.2M221.78,705.50V733.50M218.18,705.50h7.2M218.18,733.50h7.2M225.91,711.25V737.75M222.31,711.25h7.2M222.31,737.75h7.2M230.04,719.88V744.12M226.44,719.88h7.2M226.44,744.12h7.2M234.17,706.65V734.35M230.57,706.65h7.2M230.57,734.35h7.2M238.30,716.72V741.78M234.70,716.72h7.2M234.70,741.78h7.2M242.43,712.40V738.60M238.83,712.40h7.2M238.83,738.60h7.2M246.56,716.14V741.36M242.96,716.14h7.2M242.96,741.36h7.2M250.69,708.38V735.62M247.09,708.38h7.2M247.09,735.62h7.2M254.82,714.71V740.29M251.22,714.71h7.2M251.22,740.29h7.2M258.95,711.83V738.17M255.35,711.83h7.2M255.35,738.17h7.2M263.08,709.53V736.47M259.48,709.53h7.2M259.48,736.47h7.2M267.21,713.27V739.23M263.61,713.27h7.2M263.61,739.23h7.2M271.34,715.28V740.72M267.74,715.28h7.2M267.74,740.72h7.2M275.47,703.78V732.22M271.87,703.78h7.2M271.87,732.22h7.2M279.60,704.64V732.86M276.00,704.64h7.2M276.00,732.86h7.2M283.73,718.73V743.27M280.13,718.73h7.2M280.13,743.27h7.2M287.86,696.02V726.48M284.26,696.02h7.2M284.26,726.48h7.2M291.99,703.78V732.22M288.39,703.78h7.2M288.39,732.22h7.2M296.12,709.82V736.68M292.52,709.82h7.2M292.52,736.68h7.2M300.25,696.88V727.12M296.65,696.88h7.2M296.65,727.12h7.2M304.38,696.02V726.48M300.78,696.02h7.2M300.78,726.48h7.2M308.51,708.09V735.41M304.91,708.09h7.2M304.91,735.41h7.2M312.64,695.73V726.27M309.04,695.73h7.2M309.04,726.27h7.2M316.77,698.89V728.61M313.17,698.89h7.2M313.17,728.61h7.2M320.90,687.11V719.89M317.30,687.11h7.2M317.30,719.89h7.2M325.03,693.14V724.36M321.43,693.14h7.2M321.43,724.36h7.2M329.16,709.82V736.68M325.56,709.82h7.2M325.56,736.68h7.2M333.29,708.09V735.41M329.69,708.09h7.2M329.69,735.41h7.2M337.42,692.57V723.93M333.82,692.57h7.2M333.82,723.93h7.2M341.55,694.58V725.42M337.95,694.58h7.2M337.95,725.42h7.2M345.68,713.27V739.23M342.08,713.27h7.2M342.08,739.23h7.2M349.81,708.38V735.62M346.21,708.38h7.2M346.21,735.62h7.2M353.94,703.78V732.22M350.34,703.78h7.2M350.34,732.22h7.2M358.07,696.02V726.48M354.47,696.02h7.2M354.47,726.48h7.2M362.20,686.53V719.47M358.60,686.53h7.2M358.60,719.47h7.2M366.33,707.52V734.98M362.73,707.52h7.2M362.73,734.98h7.2M370.46,704.07V732.43M366.86,704.07h7.2M366.86,732.43h7.2M374.59,703.78V732.22M370.99,703.78h7.2M370.99,732.22h7.2M378.72,693.14V724.36M375.12,693.14h7.2M375.12,724.36h7.2M382.85,707.81V735.19M379.25,707.81h7.2M379.25,735.19h7.2M386.98,703.78V732.22M383.38,703.78h7.2M383.38,732.22h7.2M391.11,696.02V726.48M387.51,696.02h7.2M387.51,726.48h7.2M395.24,691.13V722.87M391.64,691.13h7.2M391.64,722.87h7.2M399.37,695.15V725.85M395.77,695.15h7.2M395.77,725.85h7.2M403.50,698.03V727.97M399.90,698.03h7.2M399.90,727.97h7.2M407.63,703.78V732.22M404.03,703.78h7.2M404.03,732.22h7.2M411.76,694.00V725.00M408.16,694.00h7.2M408.16,725.00h7.2M415.89,696.02V726.48M412.29,696.02h7.2M412.29,726.48h7.2M420.02,697.46V727.54M416.42,697.46h7.2M416.42,727.54h7.2M424.15,698.03V727.97M420.55,698.03h7.2M420.55,727.97h7.2M428.28,698.61V728.39M424.68,698.61h7.2M424.68,728.39h7.2M432.41,700.33V729.67M428.81,700.33h7.2M428.81,729.67h7.2M436.54,693.14V724.36M432.94,693.14h7.2M432.94,724.36h7.2M440.67,700.33V729.67M437.07,700.33h7.2M437.07,729.67h7.2M444.80,697.46V727.54M441.20,697.46h7.2M441.20,727.54h7.2M448.93,693.14V724.36M445.33,693.14h7.2M445.33,724.36h7.2M453.06,706.65V734.35M449.46,706.65h7.2M449.46,734.35h7.2M457.19,699.01V728.69M453.59,699.01h7.2M453.59,728.69h7.2M461.32,695.27V725.93M457.72,695.27h7.2M457.72,725.93h7.2" fill="none" stroke="#383838" stroke-width="1.1"/>
<path d="M93.75,789.25l3.25,3.25l-3.25,3.25l-3.25,-3.25zM97.88,789.25l3.25,3.25l-3.25,3.25l-3.25,-3.25zM102.01,789.25l3.25,3.25l-3.25,3.25l-3.25,-3.25zM106.14,784.75l3.25,3.25l-3.25,3.25l-3.25,-3.25zM110.27,780.00l3.25,3.25l-3.25,3.25l-3.25,-3.25zM114.40,775.75l3.25,3.25l-3.25,3.25l-3.25,-3.25zM118.53,777.25l3.25,3.25l-3.25,3.25l-3.25,-3.25zM122.66,774.75l3.25,3.25l-3.25,3.25l-3.25,-3.25zM126.79,763.75l3.25,3.25l-3.25,3.25l-3.25,-3.25zM130.92,759.75l3.25,3.25l-3.25,3.25l-3.25,-3.25zM135.05,764.25l3.25,3.25l-3.25,3.25l-3.25,-3.25zM139.18,763.75l3.25,3.25l-3.25,3.25l-3.25,-3.25zM143.31,765.75l3.25,3.25l-3.25,3.25l-3.25,-3.25zM147.44,756.75l3.25,3.25l-3.25,3.25l-3.25,-3.25zM151.57,748.00l3.25,3.25l-3.25,3.25l-3.25,-3.25zM155.70,751.75l3.25,3.25l-3.25,3.25l-3.25,-3.25zM159.83,748.00l3.25,3.25l-3.25,3.25l-3.25,-3.25zM163.96,738.50l3.25,3.25l-3.25,3.25l-3.25,-3.25zM168.09,728.75l3.25,3.25l-3.25,3.25l-3.25,-3.25zM172.22,702.75l3.25,3.25l-3.25,3.25l-3.25,-3.25zM176.35,708.75l3.25,3.25l-3.25,3.25l-3.25,-3.25zM180.48,707.50l3.25,3.25l-3.25,3.25l-3.25,-3.25zM184.61,711.25l3.25,3.25l-3.25,3.25l-3.25,-3.25zM188.74,687.00l3.25,3.25l-3.25,3.25l-3.25,-3.25zM192.87,673.75l3.25,3.25l-3.25,3.25l-3.25,-3.25zM197.00,670.25l3.25,3.25l-3.25,3.25l-3.25,-3.25zM201.13,678.00l3.25,3.25l-3.25,3.25l-3.25,-3.25zM205.26,679.75l3.25,3.25l-3.25,3.25l-3.25,-3.25zM209.39,659.75l3.25,3.25l-3.25,3.25l-3.25,-3.25zM213.52,675.50l3.25,3.25l-3.25,3.25l-3.25,-3.25zM217.65,673.50l3.25,3.25l-3.25,3.25l-3.25,-3.25zM221.78,667.50l3.25,3.25l-3.25,3.25l-3.25,-3.25zM225.91,652.50l3.25,3.25l-3.25,3.25l-3.25,-3.25zM230.04,635.50l3.25,3.25l-3.25,3.25l-3.25,-3.25zM234.17,642.50l3.25,3.25l-3.25,3.25l-3.25,-3.25zM238.30,665.00l3.25,3.25l-3.25,3.25l-3.25,-3.25zM242.43,619.25l3.25,3.25l-3.25,3.25l-3.25,-3.25zM246.56,609.50l3.25,3.25l-3.25,3.25l-3.25,-3.25zM250.69,627.50l3.25,3.25l-3.25,3.25l-3.25,-3.25zM254.82,639.25l3.25,3.25l-3.25,3.25l-3.25,-3.25zM258.95,611.00l3.25,3.25l-3.25,3.25l-3.25,-3.25zM263.08,618.75l3.25,3.25l-3.25,3.25l-3.25,-3.25zM267.21,615.00l3.25,3.25l-3.25,3.25l-3.25,-3.25zM271.34,625.50l3.25,3.25l-3.25,3.25l-3.25,-3.25zM275.47,599.25l3.25,3.25l-3.25,3.25l-3.25,-3.25zM279.60,617.00l3.25,3.25l-3.25,3.25l-3.25,-3.25zM283.73,615.25l3.25,3.25l-3.25,3.25l-3.25,-3.25zM287.86,586.50l3.25,3.25l-3.25,3.25l-3.25,-3.25zM291.99,625.50l3.25,3.25l-3.25,3.25l-3.25,-3.25zM296.12,586.75l3.25,3.25l-3.25,3.25l-3.25,-3.25zM300.25,609.50l3.25,3.25l-3.25,3.25l-3.25,-3.25zM304.38,574.75l3.25,3.25l-3.25,3.25l-3.25,-3.25zM308.51,589.75l3.25,3.25l-3.25,3.25l-3.25,-3.25zM312.64,600.00l3.25,3.25l-3.25,3.25l-3.25,-3.25zM316.77,574.25l3.25,3.25l-3.25,3.25l-3.25,-3.25zM320.90,609.00l3.25,3.25l-3.25,3.25l-3.25,-3.25zM325.03,594.75l3.25,3.25l-3.25,3.25l-3.25,-3.25zM329.16,623.75l3.25,3.25l-3.25,3.25l-3.25,-3.25zM333.29,593.00l3.25,3.25l-3.25,3.25l-3.25,-3.25zM337.42,645.50l3.25,3.25l-3.25,3.25l-3.25,-3.25zM341.55,625.00l3.25,3.25l-3.25,3.25l-3.25,-3.25zM345.68,628.75l3.25,3.25l-3.25,3.25l-3.25,-3.25zM349.81,593.50l3.25,3.25l-3.25,3.25l-3.25,-3.25zM353.94,589.75l3.25,3.25l-3.25,3.25l-3.25,-3.25zM358.07,588.25l3.25,3.25l-3.25,3.25l-3.25,-3.25zM362.20,601.75l3.25,3.25l-3.25,3.25l-3.25,-3.25zM366.33,597.00l3.25,3.25l-3.25,3.25l-3.25,-3.25zM370.46,587.00l3.25,3.25l-3.25,3.25l-3.25,-3.25zM374.59,604.75l3.25,3.25l-3.25,3.25l-3.25,-3.25zM378.72,553.75l3.25,3.25l-3.25,3.25l-3.25,-3.25zM382.85,548.75l3.25,3.25l-3.25,3.25l-3.25,-3.25zM386.98,572.75l3.25,3.25l-3.25,3.25l-3.25,-3.25zM391.11,561.25l3.25,3.25l-3.25,3.25l-3.25,-3.25zM395.24,556.75l3.25,3.25l-3.25,3.25l-3.25,-3.25zM399.37,565.25l3.25,3.25l-3.25,3.25l-3.25,-3.25zM403.50,601.50l3.25,3.25l-3.25,3.25l-3.25,-3.25zM407.63,554.25l3.25,3.25l-3.25,3.25l-3.25,-3.25zM411.76,595.00l3.25,3.25l-3.25,3.25l-3.25,-3.25zM415.89,553.50l3.25,3.25l-3.25,3.25l-3.25,-3.25zM420.02,556.25l3.25,3.25l-3.25,3.25l-3.25,-3.25z" fill="#000"/>
<path d="M99.91,759.90h4.2v4.2h-4.2zM104.04,756.65h4.2v4.2h-4.2zM108.17,736.65h4.2v4.2h-4.2zM112.30,726.15h4.2v4.2h-4.2zM116.43,734.15h4.2v4.2h-4.2zM120.56,725.40h4.2v4.2h-4.2zM124.69,725.90h4.2v4.2h-4.2zM128.82,735.90h4.2v4.2h-4.2zM132.95,727.15h4.2v4.2h-4.2zM137.08,729.90h4.2v4.2h-4.2zM141.21,729.90h4.2v4.2h-4.2zM145.34,724.65h4.2v4.2h-4.2zM149.47,720.40h4.2v4.2h-4.2zM153.60,724.90h4.2v4.2h-4.2zM157.73,719.65h4.2v4.2h-4.2zM161.86,729.90h4.2v4.2h-4.2zM165.99,728.65h4.2v4.2h-4.2zM170.12,723.40h4.2v4.2h-4.2zM174.25,726.65h4.2v4.2h-4.2zM178.38,718.65h4.2v4.2h-4.2zM182.51,714.65h4.2v4.2h-4.2zM186.64,727.40h4.2v4.2h-4.2zM190.77,733.40h4.2v4.2h-4.2zM194.90,719.65h4.2v4.2h-4.2zM199.03,724.65h4.2v4.2h-4.2zM203.16,712.40h4.2v4.2h-4.2zM207.29,724.40h4.2v4.2h-4.2zM211.42,731.15h4.2v4.2h-4.2zM215.55,717.90h4.2v4.2h-4.2zM219.68,717.40h4.2v4.2h-4.2zM223.81,722.40h4.2v4.2h-4.2zM227.94,729.90h4.2v4.2h-4.2zM232.07,718.40h4.2v4.2h-4.2zM236.20,727.15h4.2v4.2h-4.2zM240.33,723.40h4.2v4.2h-4.2zM244.46,726.65h4.2v4.2h-4.2zM248.59,719.90h4.2v4.2h-4.2zM252.72,725.40h4.2v4.2h-4.2zM256.85,722.90h4.2v4.2h-4.2zM260.98,720.90h4.2v4.2h-4.2zM265.11,724.15h4.2v4.2h-4.2zM269.24,725.90h4.2v4.2h-4.2zM273.37,715.90h4.2v4.2h-4.2zM277.50,716.65h4.2v4.2h-4.2zM281.63,728.90h4.2v4.2h-4.2zM285.76,709.15h4.2v4.2h-4.2zM289.89,715.90h4.2v4.2h-4.2zM294.02,721.15h4.2v4.2h-4.2zM298.15,709.90h4.2v4.2h-4.2zM302.28,709.15h4.2v4.2h-4.2zM306.41,719.65h4.2v4.2h-4.2zM310.54,708.90h4.2v4.2h-4.2zM314.67,711.65h4.2v4.2h-4.2zM318.80,701.40h4.2v4.2h-4.2zM322.93,706.65h4.2v4.2h-4.2zM327.06,721.15h4.2v4.2h-4.2zM331.19,719.65h4.2v4.2h-4.2zM335.32,706.15h4.2v4.2h-4.2zM339.45,707.90h4.2v4.2h-4.2zM343.58,724.15h4.2v4.2h-4.2zM347.71,719.90h4.2v4.2h-4.2zM351.84,715.90h4.2v4.2h-4.2zM355.97,709.15h4.2v4.2h-4.2zM360.10,700.90h4.2v4.2h-4.2zM364.23,719.15h4.2v4.2h-4.2zM368.36,716.15h4.2v4.2h-4.2zM372.49,715.90h4.2v4.2h-4.2zM376.62,706.65h4.2v4.2h-4.2zM380.75,719.40h4.2v4.2h-4.2zM384.88,715.90h4.2v4.2h-4.2zM389.01,709.15h4.2v4.2h-4.2zM393.14,704.90h4.2v4.2h-4.2zM397.27,708.40h4.2v4.2h-4.2zM401.40,710.90h4.2v4.2h-4.2zM405.53,715.90h4.2v4.2h-4.2zM409.66,707.40h4.2v4.2h-4.2zM413.79,709.15h4.2v4.2h-4.2zM417.92,710.40h4.2v4.2h-4.2zM422.05,710.90h4.2v4.2h-4.2zM426.18,711.40h4.2v4.2h-4.2zM430.31,712.90h4.2v4.2h-4.2zM434.44,706.65h4.2v4.2h-4.2zM438.57,712.90h4.2v4.2h-4.2zM442.70,710.40h4.2v4.2h-4.2zM446.83,706.65h4.2v4.2h-4.2zM450.96,718.40h4.2v4.2h-4.2zM455.09,711.75h4.2v4.2h-4.2zM459.22,708.50h4.2v4.2h-4.2z" fill="#000"/>
<path d="M115.00,785.77 L117.32,782.66 L119.64,779.54 L121.96,776.41 L124.28,773.29 L126.60,770.16 L128.92,767.04 L131.25,763.93 L133.57,760.82 L135.89,757.72 L138.21,754.64 L140.53,751.57 L142.85,748.52 L145.17,745.48 L147.49,742.47 L149.81,739.48 L152.13,736.52 L154.45,733.58 L156.77,730.68 L159.09,727.80 L161.42,724.96 L163.74,722.15 L166.06,719.38 L168.38,716.65 L170.70,713.95 L173.02,711.30 L175.34,708.69 L177.66,706.11 L179.98,703.58 L182.30,701.08 L184.62,698.62 L186.94,696.19 L189.26,693.81 L191.58,691.46 L193.91,689.14 L196.23,686.86 L198.55,684.61 L200.87,682.39 L203.19,680.21 L205.51,678.06 L207.83,675.95 L210.15,673.86 L212.47,671.81 L214.79,669.78 L217.11,667.79 L219.43,665.82 L221.75,663.88 L224.08,661.97 L226.40,660.09 L228.72,658.24 L231.04,656.41 L233.36,654.60 L235.68,652.83 L238.00,651.07 L240.32,649.34 L242.64,647.64 L244.96,645.95 L247.28,644.29 L249.60,642.66 L251.92,641.04 L254.25,639.45 L256.57,637.88 L258.89,636.33 L261.21,634.80 L263.53,633.29 L265.85,631.81 L268.17,630.34 L270.49,628.89 L272.81,627.47 L275.13,626.06 L277.45,624.68 L279.77,623.31 L282.09,621.97 L284.42,620.64 L286.74,619.33 L289.06,618.04 L291.38,616.77 L293.70,615.51 L296.02,614.28 L298.34,613.06 L300.66,611.86 L302.98,610.67 L305.30,609.51 L307.62,608.35 L309.94,607.22 L312.26,606.10 L314.58,605.00 L316.91,603.91 L319.23,602.84 L321.55,601.79 L323.87,600.75 L326.19,599.72 L328.51,598.71 L330.83,597.71 L333.15,596.73 L335.47,595.76 L337.79,594.80 L340.11,593.86 L342.43,592.93 L344.75,592.01 L347.08,591.11 L349.40,590.22 L351.72,589.34 L354.04,588.47 L356.36,587.61 L358.68,586.77 L361.00,585.94 L363.32,585.11 L365.64,584.30 L367.96,583.50 L370.28,582.71 L372.60,581.93 L374.92,581.16 L377.25,580.40 L379.57,579.65 L381.89,578.90 L384.21,578.17 L386.53,577.44 L388.85,576.73 L391.17,576.02 L393.49,575.31 L395.81,574.62 L398.13,573.94 L400.45,573.26 L402.77,572.58 L405.09,571.92 L407.42,571.26 L409.74,570.61 L412.06,569.96 L414.38,569.32 L416.70,568.69 L419.02,568.06 L421.34,567.43 L423.66,566.81 L425.98,566.20 L428.30,565.59 L430.62,564.98 L432.94,564.38 L435.26,563.78 L437.58,563.18 L439.91,562.59 L442.23,562.00 L444.55,561.41 L446.87,560.83 L449.19,560.24 L451.51,559.66 L453.83,559.09 L456.15,558.51 L458.47,557.93 L460.79,557.36 L463.11,556.78 L465.43,556.21 L467.75,555.64 L470.08,555.07 L472.40,554.49 L474.72,553.92 L477.04,553.35 L479.36,552.77 L481.68,552.19 L484.00,551.62" fill="none" stroke="#575757" stroke-width="1.8" stroke-linecap="round"/>
<path d="M93.10,755.40 L95.56,753.28 L98.01,751.30 L100.47,749.45 L102.92,747.71 L105.38,746.09 L107.83,744.58 L110.29,743.18 L112.74,741.87 L115.20,740.66 L117.65,739.54 L120.11,738.50 L122.56,737.54 L125.02,736.65 L127.47,735.82 L129.93,735.06 L132.39,734.35 L134.84,733.69 L137.30,733.08 L139.75,732.51 L142.21,731.96 L144.66,731.45 L147.12,730.96 L149.57,730.49 L152.03,730.03 L154.48,729.58 L156.94,729.14 L159.39,728.70 L161.85,728.28 L164.31,727.87 L166.76,727.47 L169.22,727.08 L171.67,726.70 L174.13,726.33 L176.58,725.97 L179.04,725.62 L181.49,725.27 L183.95,724.94 L186.40,724.61 L188.86,724.29 L191.31,723.98 L193.77,723.68 L196.22,723.39 L198.68,723.11 L201.14,722.83 L203.59,722.57 L206.05,722.31 L208.50,722.06 L210.96,721.81 L213.41,721.58 L215.87,721.35 L218.32,721.13 L220.78,720.91 L223.23,720.71 L225.69,720.51 L228.14,720.31 L230.60,720.13 L233.05,719.95 L235.51,719.77 L237.97,719.61 L240.42,719.44 L242.88,719.29 L245.33,719.14 L247.79,719.00 L250.24,718.86 L252.70,718.73 L255.15,718.60 L257.61,718.48 L260.06,718.37 L262.52,718.26 L264.97,718.15 L267.43,718.05 L269.88,717.95 L272.34,717.86 L274.80,717.78 L277.25,717.69 L279.71,717.62 L282.16,717.54 L284.62,717.47 L287.07,717.41 L289.53,717.35 L291.98,717.29 L294.44,717.23 L296.89,717.18 L299.35,717.13 L301.80,717.09 L304.26,717.05 L306.72,717.01 L309.17,716.97 L311.63,716.94 L314.08,716.91 L316.54,716.88 L318.99,716.86 L321.45,716.83 L323.90,716.81 L326.36,716.79 L328.81,716.77 L331.27,716.76 L333.72,716.74 L336.18,716.73 L338.63,716.72 L341.09,716.71 L343.55,716.70 L346.00,716.69 L348.46,716.69 L350.91,716.68 L353.37,716.68 L355.82,716.67 L358.28,716.67 L360.73,716.66 L363.19,716.66 L365.64,716.65 L368.10,716.65 L370.55,716.65 L373.01,716.64 L375.46,716.64 L377.92,716.63 L380.38,716.63 L382.83,716.62 L385.29,716.61 L387.74,716.60 L390.20,716.59 L392.65,716.58 L395.11,716.57 L397.56,716.55 L400.02,716.54 L402.47,716.52 L404.93,716.50 L407.38,716.48 L409.84,716.45 L412.29,716.43 L414.75,716.40 L417.21,716.37 L419.66,716.34 L422.12,716.30 L424.57,716.26 L427.03,716.22 L429.48,716.17 L431.94,716.13 L434.39,716.07 L436.85,716.02 L439.30,715.96 L441.76,715.90 L444.21,715.83 L446.67,715.76 L449.13,715.69 L451.58,715.61 L454.04,715.53 L456.49,715.44 L458.95,715.35 L461.40,715.25 L463.86,715.15 L466.31,715.04 L468.77,714.93 L471.22,714.82 L473.68,714.69 L476.13,714.57 L478.59,714.43 L481.04,714.30 L483.50,714.15" fill="none" stroke="#575757" stroke-width="1.8" stroke-linecap="round"/>
<path d="M58.2,473.99V813.55M57.45,812.8H519.21M58.2,812.80h-7.2M58.2,767.72h-7.2M58.2,722.65h-7.2M58.2,677.57h-7.2M58.2,632.50h-7.2M58.2,587.42h-7.2M58.2,542.35h-7.2M58.2,497.27h-7.2M58.2,790.26h-4M58.2,745.19h-4M58.2,700.11h-4M58.2,655.04h-4M58.2,609.96h-4M58.2,564.89h-4M58.2,519.81h-4M58.2,474.74h-4M58.20,812.8v7.5M129.12,812.8v7.5M200.05,812.8v7.5M270.98,812.8v7.5M341.90,812.8v7.5M412.82,812.8v7.5M483.75,812.8v7.5M93.66,812.8v4M164.59,812.8v4M235.51,812.8v4M306.44,812.8v4M377.36,812.8v4M448.29,812.8v4M519.21,812.8v4" fill="none" stroke="#111" stroke-width="1.5"/>
<text x="46.90" y="816.87" font-size="13.8" text-anchor="end" fill="#0a0a0a" stroke="#0a0a0a" stroke-width="0.3">0.0</text>
<text x="46.90" y="771.80" font-size="13.8" text-anchor="end" fill="#0a0a0a" stroke="#0a0a0a" stroke-width="0.3">0.5</text>
<text x="46.90" y="726.72" font-size="13.8" text-anchor="end" fill="#0a0a0a" stroke="#0a0a0a" stroke-width="0.3">1.0</text>
<text x="46.90" y="681.65" font-size="13.8" text-anchor="end" fill="#0a0a0a" stroke="#0a0a0a" stroke-width="0.3">1.5</text>
<text x="46.90" y="636.57" font-size="13.8" text-anchor="end" fill="#0a0a0a" stroke="#0a0a0a" stroke-width="0.3">2.0</text>
<text x="46.90" y="591.50" font-size="13.8" text-anchor="end" fill="#0a0a0a" stroke="#0a0a0a" stroke-width="0.3">2.5</text>
<text x="46.90" y="546.42" font-size="13.8" text-anchor="end" fill="#0a0a0a" stroke="#0a0a0a" stroke-width="0.3">3.0</text>
<text x="46.90" y="501.35" font-size="13.8" text-anchor="end" fill="#0a0a0a" stroke="#0a0a0a" stroke-width="0.3">3.5</text>
<text x="58.20" y="835.10" font-size="13.8" text-anchor="middle" fill="#0a0a0a" stroke="#0a0a0a" stroke-width="0.3">0</text>
<text x="129.12" y="835.10" font-size="13.8" text-anchor="middle" fill="#0a0a0a" stroke="#0a0a0a" stroke-width="0.3">10</text>
<text x="200.05" y="835.10" font-size="13.8" text-anchor="middle" fill="#0a0a0a" stroke="#0a0a0a" stroke-width="0.3">20</text>
<text x="270.98" y="835.10" font-size="13.8" text-anchor="middle" fill="#0a0a0a" stroke="#0a0a0a" stroke-width="0.3">30</text>
<text x="341.90" y="835.10" font-size="13.8" text-anchor="middle" fill="#0a0a0a" stroke="#0a0a0a" stroke-width="0.3">40</text>
<text x="412.82" y="835.10" font-size="13.8" text-anchor="middle" fill="#0a0a0a" stroke="#0a0a0a" stroke-width="0.3">50</text>
<text x="483.75" y="835.10" font-size="13.8" text-anchor="middle" fill="#0a0a0a" stroke="#0a0a0a" stroke-width="0.3">60</text>
<text x="288.7" y="860.7" font-size="16.9" text-anchor="middle" fill="#0a0a0a" stroke="#0a0a0a" stroke-width="0.3">Time (mins)</text>
<text transform="translate(16.0,654) rotate(-90)" font-size="16.5" text-anchor="middle" fill="#0a0a0a" stroke="#0a0a0a" stroke-width="0.3">G' (Pa)</text>
<rect x="97.1" y="496.9" width="160.4" height="44.6" fill="#fff" stroke="#4a4a4a" stroke-width="1.25"/>
<path d="M117.5,506.7l3.1,3.1l-3.1,3.1l-3.1,-3.1z" fill="#000"/><rect x="115.3" y="527.9" width="4.2" height="4.2" fill="#000"/>
<text x="140.0" y="515.4" font-size="13.8" fill="#0a0a0a" stroke="#0a0a0a" stroke-width="0.3">448Lys with FXIII</text>
<text x="140.0" y="535.3" font-size="13.8" fill="#0a0a0a" stroke="#0a0a0a" stroke-width="0.3">448Arg with FXIII</text>
</svg>
</body></html>
